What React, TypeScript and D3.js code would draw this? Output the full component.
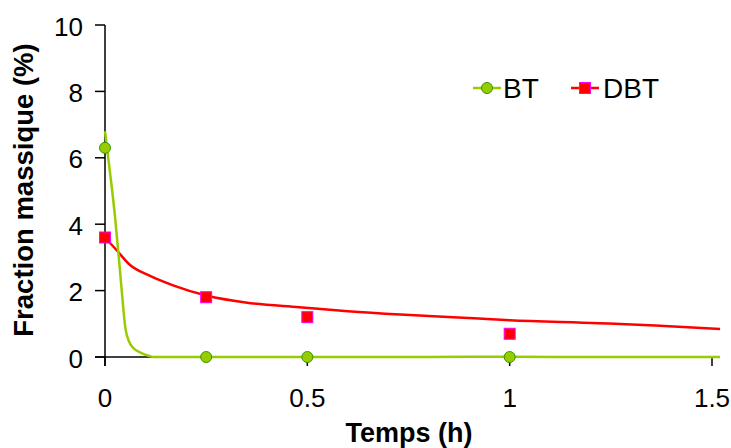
import React from "react";
import * as d3 from "d3";

const xTicks = [0, 0.5, 1, 1.5];
const yTicks = [0, 2, 4, 6, 8, 10];

const btTime = [0, 0.25, 0.5, 1];
const btValue = [6.3, 0, 0, 0];
const dbtTime = [0, 0.25, 0.5, 1];
const dbtValue = [3.6, 1.8, 1.2, 0.7];

const btFitTime = [0, 0.012, 0.025, 0.037, 0.045, 0.05, 0.06, 0.07, 0.09, 0.11, 0.12, 0.5, 0.8, 1.0, 1.2, 1.52];
const btFitValue = [6.8, 5.6, 4.2, 2.6, 1.5, 0.9, 0.45, 0.27, 0.12, 0.03, 0.0, 0.0, 0.0, 0.01, 0.0, 0.0];
const dbtFitTime = [0, 0.03, 0.062, 0.11, 0.17, 0.25, 0.36, 0.48, 0.6, 0.73, 0.86, 1.0, 1.22, 1.36, 1.52];
const dbtFitValue = [3.6, 3.2, 2.77, 2.45, 2.15, 1.85, 1.62, 1.5, 1.38, 1.28, 1.2, 1.11, 1.02, 0.95, 0.84];

const W = 731;
const H = 448;
const x = d3.scaleLinear().domain([0, 1.5]).range([105, 712]);
const y = d3.scaleLinear().domain([0, 10]).range([357, 25]);

const FONT = "'Liberation Sans', Arial, sans-serif";
const GREEN = "#99CC00";
const GREEN_DARK = "#339900";
const RED = "#FF0000";
const MAGENTA = "#FF00FF";

export default function App() {
  const line = d3.line<[number, number]>().x((d) => x(d[0])).y((d) => y(d[1])).curve(d3.curveMonotoneX);
  const btFit = line(btFitTime.map((t, i) => [t, btFitValue[i]]) as [number, number][]) || "";
  const dbtFit = line(dbtFitTime.map((t, i) => [t, dbtFitValue[i]]) as [number, number][]) || "";

  return (
    <svg width={W} height={H} style={{ position: "absolute", left: 0, top: 0 }} fontFamily={FONT}>
      <rect width={W} height={H} fill="#fff" />
      {/* axes */}
      <line x1={x(0)} x2={x(0)} y1={y(10)} y2={y(0) + 9} stroke="#000" strokeWidth={1.5} />
      <line x1={x(0) - 10} x2={x(1.5)} y1={y(0)} y2={y(0)} stroke="#000" strokeWidth={1.5} />
      {yTicks.map((t) => (
        <g key={"y" + t}>
          <line x1={x(0) - 10} x2={x(0)} y1={y(t)} y2={y(t)} stroke="#000" strokeWidth={1.5} />
          <text x={83} y={y(t) + 10.5} textAnchor="end" fontSize={26} fill="#000">
            {t}
          </text>
        </g>
      ))}
      {xTicks.map((t) => (
        <g key={"x" + t}>
          <line x1={x(t)} x2={x(t)} y1={y(0)} y2={y(0) + 9} stroke="#000" strokeWidth={1.5} />
          <text x={x(t)} y={407} textAnchor="middle" fontSize={26} fill="#000">
            {t}
          </text>
        </g>
      ))}
      <text x={409} y={442} textAnchor="middle" fontSize={27} fontWeight="bold" fill="#000">
        Temps (h)
      </text>
      <text
        transform={`translate(33, ${190}) rotate(-90)`}
        textAnchor="middle"
        fontSize={27.5}
        fontWeight="bold"
        fill="#000"
      >
        Fraction massique (%)
      </text>
      {/* fitted curves */}
      <path d={dbtFit} fill="none" stroke={RED} strokeWidth={2.5} />
      <path d={btFit} fill="none" stroke={GREEN} strokeWidth={2.5} />
      {/* markers */}
      {dbtTime.map((t, i) => (
        <rect
          key={"d" + i}
          x={x(t) - 5.5}
          y={y(dbtValue[i]) - 5.5}
          width={11}
          height={11}
          fill={RED}
          stroke={MAGENTA}
          strokeWidth={1}
        />
      ))}
      {btTime.map((t, i) => (
        <circle key={"b" + i} cx={x(t)} cy={y(btValue[i])} r={5.5} fill={GREEN} stroke={GREEN_DARK} strokeWidth={1} />
      ))}
      {/* legend */}
      <line x1={473} x2={501} y1={88} y2={88} stroke={GREEN} strokeWidth={2.5} />
      <circle cx={487} cy={88} r={5.5} fill={GREEN} stroke={GREEN_DARK} strokeWidth={1} />
      <text x={503} y={98} fontSize={28} fill="#000">
        BT
      </text>
      <line x1={571} x2={599} y1={88} y2={88} stroke={RED} strokeWidth={2.5} />
      <rect x={579.5} y={82.5} width={11} height={11} fill={RED} stroke={MAGENTA} strokeWidth={1} />
      <text x={603} y={98} fontSize={28} fill="#000">
        DBT
      </text>
    </svg>
  );
}
